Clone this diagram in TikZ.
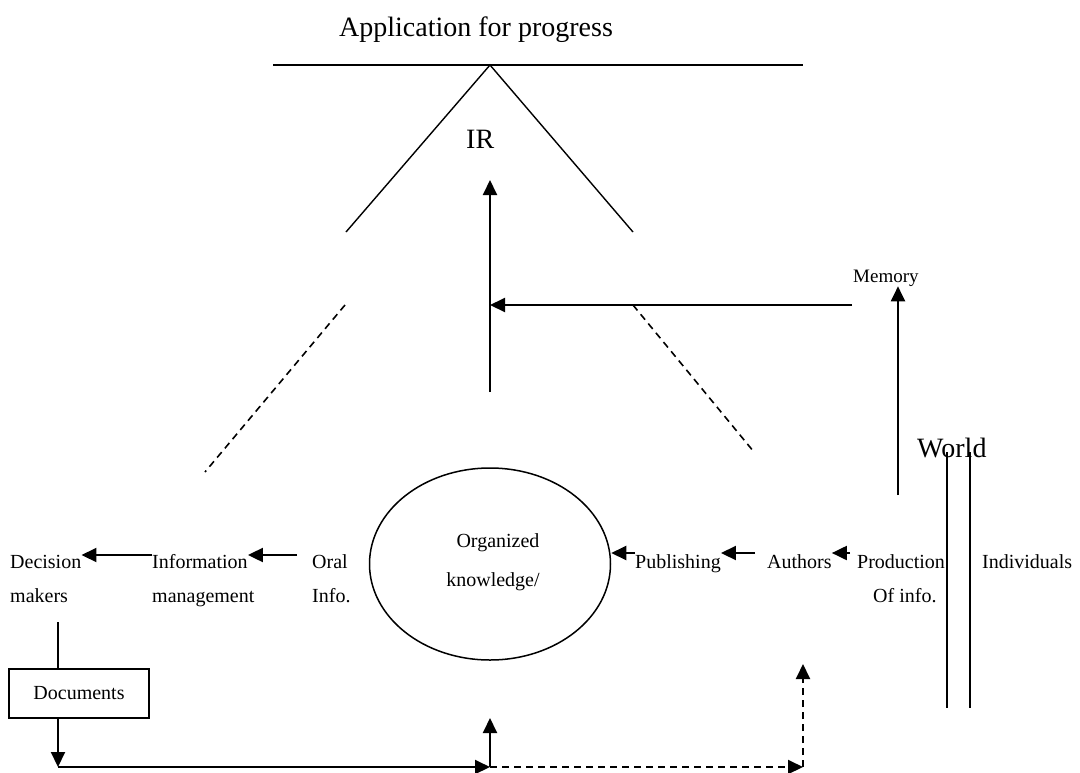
\documentclass[tikz,border=0pt]{standalone}
\usepackage{fontspec}
\setmainfont{Liberation Serif}
\usetikzlibrary{arrows.meta,shapes.geometric}
\begin{document}
\begin{tikzpicture}[x=1pt,y=-1pt,
  lbl/.style={inner sep=0pt, font=\fontsize{20}{24}\selectfont, anchor=base west},
  big/.style={inner sep=0pt, font=\fontsize{28}{32}\selectfont, anchor=base west},
  arr/.style={line width=2pt, -{Triangle[length=15pt,width=14pt]}},
  darr/.style={line width=2pt, dash pattern=on 7pt off 5pt, -{Triangle[length=15pt,width=14pt]}},
  thin/.style={line width=1.4pt},
  dsh/.style={line width=1.6pt, dash pattern=on 7pt off 5pt}]
\useasboundingbox (0,0) rectangle (1080,772);

% top part
\node[big] (title) at (339,36) {Application for progress};
\node[big] (ir) at (466,148) {IR};
\coordinate (apex) at (490,65);
\coordinate (barL) at (273,65);
\coordinate (barR) at (803,65);
\coordinate (armL) at (346,232);
\coordinate (armR) at (633,232);
\draw[line width=2pt] (barL) -- (barR);
\draw[thin] (armL) -- (apex) -- (armR);
\coordinate (dLt) at (345,305);
\coordinate (dLb) at (205,472);
\coordinate (dRt) at (633,305);
\coordinate (dRb) at (754,452);
\draw[dsh] (dLt) -- (dLb);
\draw[dsh] (dRt) -- (dRb);

% central vertical arrow and horizontal feed
\coordinate (vbot) at (490,392);
\coordinate (vtop) at (490,180);
\draw[arr] (vbot) -- (vtop);
\coordinate (hstart) at (852,305);
\draw[arr] (hstart) -- (vbot |- hstart);

% memory
\node[lbl, font=\fontsize{19}{23}\selectfont] (mem) at (853,282) {Memory};
\coordinate (memb) at (898,495);
\draw[arr] (memb) -- (memb |- mem.south);

% world
\node[big] (world) at (917,457) {World};
\coordinate (w1t) at (947,452);
\coordinate (w1b) at (947,708);
\coordinate (w2t) at (970,452);
\coordinate (w2b) at (970,708);
\draw[line width=2pt] (w1t) -- (w1b);
\draw[line width=2pt] (w2t) -- (w2b);

% ellipse
\node[draw, ellipse, line width=1.5pt, minimum width=241pt, minimum height=192pt] (ok) at (490,564) {};
\node[lbl, anchor=base] (org) at (498,547) {Organized};
\node[lbl, anchor=base] (know) at (493,586) {knowledge/};

% left row
\node[lbl] (dec) at (10,568) {Decision};
\node[lbl] (mak) at (10,602) {makers};
\node[lbl] (inf) at (152,568) {Information};
\node[lbl] (man) at (152,602) {management};
\node[lbl] (oral) at (312,568) {Oral};
\node[lbl] (infod) at (312,602) {Info.};
\draw[arr] (inf.west |- 0,555) -- (dec.east |- 0,555);
\draw[arr] ([xshift=-15pt]oral.west |- 0,555) -- (inf.east |- 0,555);

% right row
\node[lbl] (pub) at (635,568) {Publishing};
\node[lbl] (aut) at (767,568) {Authors};
\node[lbl] (prod) at (857,568) {Production};
\node[lbl] (ofi) at (873,602) {Of info.};
\node[lbl] (ind) at (982,568) {Individuals};
\draw[arr] (pub.west |- 0,553) -- (ok.east |- 0,553);
\draw[arr] ([xshift=-12pt]aut.west |- 0,553) -- (pub.east |- 0,553);
\draw[arr] ([xshift=-7pt]prod.west |- 0,553) -- (aut.east |- 0,553);

% documents loop
\node[draw, line width=1.7pt, minimum width=140pt, minimum height=49pt, inner sep=0pt,
      font=\fontsize{20}{24}\selectfont] (doc) at (79,693.5) {Documents};
\coordinate (makb) at (58,622);
\draw[line width=2pt] (makb) -- (doc.north -| makb);
\coordinate (corner) at (58,767);
\coordinate (mid) at (490,767);
\coordinate (rcorner) at (803,767);
\coordinate (midtop) at (490,718);
\coordinate (rtop) at (803,664);
\draw[arr] (doc.south -| corner) -- (corner);
\draw[arr] (corner) -- (mid);
\draw[arr] (mid) -- (midtop);
\draw[darr] (mid) -- (rcorner);
\draw[darr] (rcorner) -- (rtop);
\end{tikzpicture}
\end{document}
